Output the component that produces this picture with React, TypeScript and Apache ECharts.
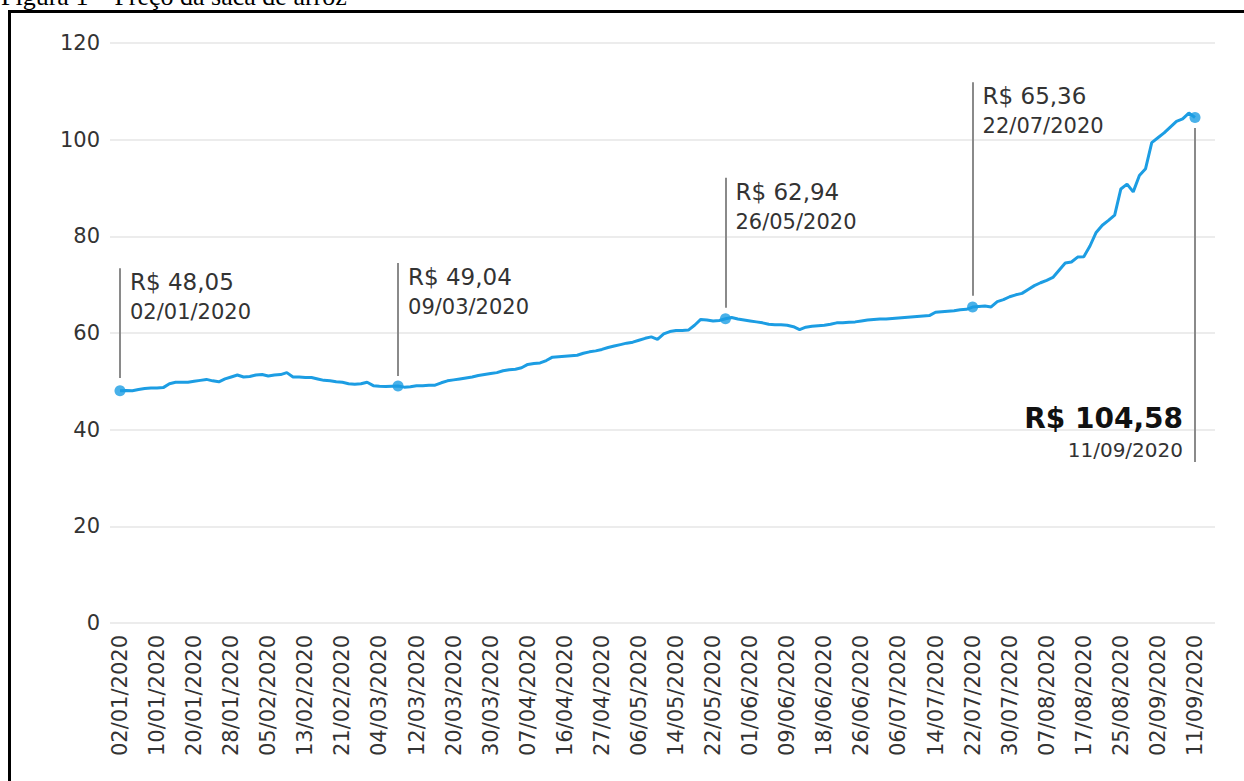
import React, { useEffect, useRef } from "react";
import * as echarts from "echarts";

// ---- data ----
const startDate = "2020-01-02";
const endDate = "2020-09-11";
const holidays = ["24/02/2020", "25/02/2020", "10/04/2020", "21/04/2020", "01/05/2020", "11/06/2020", "07/09/2020"];

const prices = [
  48.05, 48.1, 48.05, 48.3, 48.5, 48.6, 48.6, 48.7, 49.5, 49.8,
  49.8, 49.8, 50.0, 50.2, 50.4, 50.1, 49.9, 50.5, 50.9, 51.3,
  50.9, 51.0, 51.3, 51.4, 51.1, 51.3, 51.4, 51.8, 50.9, 50.9,
  50.8, 50.8, 50.5, 50.2, 50.1, 49.9, 49.8, 49.5, 49.4, 49.5,
  49.8, 49.1, 49.0, 48.95, 49.0, 49.04, 48.8, 48.9, 49.1, 49.1,
  49.2, 49.2, 49.7, 50.1, 50.3, 50.5, 50.7, 50.9, 51.2, 51.4,
  51.6, 51.8, 52.2, 52.4, 52.5, 52.8, 53.5, 53.7, 53.8, 54.3,
  55.0, 55.1, 55.2, 55.3, 55.4, 55.8, 56.1, 56.3, 56.6, 57.0,
  57.3, 57.6, 57.9, 58.1, 58.5, 58.9, 59.2, 58.7, 59.8, 60.3,
  60.5, 60.5, 60.6, 61.6, 62.8, 62.7, 62.5, 62.6, 62.94, 63.2,
  62.9, 62.7, 62.5, 62.3, 62.1, 61.8, 61.7, 61.7, 61.6, 61.3,
  60.7, 61.2, 61.4, 61.5, 61.6, 61.8, 62.1, 62.1, 62.2, 62.3,
  62.5, 62.7, 62.8, 62.9, 62.9, 63.0, 63.1, 63.2, 63.3, 63.4,
  63.5, 63.6, 64.3, 64.4, 64.5, 64.6, 64.8, 64.9, 65.36, 65.5,
  65.6, 65.4, 66.5, 66.9, 67.5, 67.9, 68.2, 69.0, 69.8, 70.4,
  70.9, 71.5, 73.0, 74.5, 74.7, 75.7, 75.8, 78.0, 80.8, 82.3,
  83.3, 84.4, 89.8, 90.8, 89.2, 92.6, 94.0, 99.4, 100.4, 101.4,
  102.6, 103.8, 104.3, 105.5, 104.58,
];

const highlightDates = ["02/01/2020", "09/03/2020", "26/05/2020", "22/07/2020", "11/09/2020"];
const highlightLabels = ["R$ 48,05", "R$ 49,04", "R$ 62,94", "R$ 65,36", "R$ 104,58"];
const highlightValues = [48.05, 49.04, 62.94, 65.36, 104.58];
// leader line extent (value units) for each highlight: [from, to]
const leaderLines = [
  [50.7, 73.4],
  [51.1, 74.5],
  [65.2, 92.1],
  [67.7, 111.9],
  [102.4, 33.3],
];

const yTicks = [0, 20, 40, 60, 80, 100, 120];
const title = "Figura 1 – Preço da saca de arroz";

function pad(n: number) {
  return n < 10 ? "0" + n : "" + n;
}
function buildTradingDays(): string[] {
  const out: string[] = [];
  const d = new Date(startDate + "T00:00:00Z");
  const end = new Date(endDate + "T00:00:00Z");
  while (d.getTime() <= end.getTime()) {
    const dow = d.getUTCDay();
    const s = pad(d.getUTCDate()) + "/" + pad(d.getUTCMonth() + 1) + "/" + d.getUTCFullYear();
    if (dow !== 0 && dow !== 6 && holidays.indexOf(s) < 0) out.push(s);
    d.setUTCDate(d.getUTCDate() + 1);
  }
  return out;
}
const tradingDays = buildTradingDays();

const BLUE = "#1c9de3";
const TEXT = "#333333";
const FONT = "DejaVu Sans";

export default function App() {
  const ref = useRef<HTMLDivElement>(null);
  useEffect(() => {
    if (!ref.current) return;
    const chart = echarts.init(ref.current, undefined, { renderer: "svg" });
    const idx = highlightDates.map((d) => tradingDays.indexOf(d));

    const markPointData: any[] = [];
    idx.forEach((i, k) => {
      const last = k === highlightDates.length - 1;
      const top = leaderLines[k][1];
      if (!last) {
        markPointData.push({
          coord: [i, top],
          symbolSize: 0,
          label: {
            show: true,
            position: [10, 14],
            align: "left",
            verticalAlign: "middle",
            formatter: highlightLabels[k],
            fontSize: 23,
            fontFamily: FONT,
            color: TEXT,
          },
        });
        markPointData.push({
          coord: [i, top],
          symbolSize: 0,
          label: {
            show: true,
            position: [10, 44],
            align: "left",
            verticalAlign: "middle",
            formatter: highlightDates[k],
            fontSize: 21,
            fontFamily: FONT,
            color: TEXT,
          },
        });
      } else {
        markPointData.push({
          coord: [i, top],
          symbolSize: 0,
          label: {
            show: true,
            position: [-12, -44],
            align: "right",
            verticalAlign: "middle",
            formatter: highlightLabels[k],
            fontSize: 28,
            fontWeight: "bold",
            fontFamily: FONT,
            color: "#111",
          },
        });
        markPointData.push({
          coord: [i, top],
          symbolSize: 0,
          label: {
            show: true,
            position: [-12, -12],
            align: "right",
            verticalAlign: "middle",
            formatter: highlightDates[k],
            fontSize: 20,
            fontFamily: FONT,
            color: TEXT,
          },
        });
      }
    });

    chart.setOption({
      animation: false,
      backgroundColor: "#ffffff",
      grid: [
        { left: 110, right: 29, top: 43, bottom: 158 },
        { left: 120, right: 49, top: 43, bottom: 158 },
      ],
      xAxis: [
        { gridIndex: 0, type: "value", show: false, min: 0, max: 1 },
        {
          gridIndex: 1,
          type: "category",
          data: tradingDays,
          boundaryGap: false,
          axisLine: { show: false },
          axisTick: { show: false },
          axisLabel: {
            interval: 5,
            rotate: 90,
            fontSize: 21,
            fontFamily: FONT,
            color: TEXT,
            margin: 12,
          },
        },
      ],
      yAxis: [
        {
          gridIndex: 0,
          type: "value",
          min: yTicks[0],
          max: yTicks[yTicks.length - 1],
          interval: 20,
          axisLine: { show: false },
          axisTick: { show: false },
          axisLabel: { fontSize: 21, fontFamily: FONT, color: TEXT, margin: 10 },
          splitLine: { lineStyle: { color: "#e6e6e6", width: 1.5 } },
        },
        {
          gridIndex: 1,
          type: "value",
          min: yTicks[0],
          max: yTicks[yTicks.length - 1],
          show: false,
          splitLine: { show: false },
        },
      ],
      series: [
        {
          type: "line",
          xAxisIndex: 1,
          yAxisIndex: 1,
          data: prices,
          showSymbol: false,
          symbol: "none",
          lineStyle: { color: BLUE, width: 3 },
          itemStyle: { color: BLUE },
          markLine: {
            silent: true,
            symbol: "none",
            label: { show: false },
            lineStyle: { color: "#8a8a8a", width: 2, type: "solid" },
            data: idx.map((i, k) => [
              { coord: [i, leaderLines[k][0]] },
              { coord: [i, leaderLines[k][1]] },
            ]),
          },
          markPoint: {
            silent: true,
            symbol: "circle",
            data: markPointData,
          },
          z: 3,
        },
        {
          type: "scatter",
          xAxisIndex: 1,
          yAxisIndex: 1,
          data: idx.map((i, k) => [i, highlightValues[k]]),
          symbol: "circle",
          symbolSize: 11,
          itemStyle: { color: BLUE },
          z: 4,
        },
      ],
      graphic: [
        {
          type: "rect",
          shape: { x: 9.5, y: 11.5, width: 1400, height: 1000 },
          style: { fill: "none", stroke: "#000", lineWidth: 3 },
          silent: true,
        },
        {
          type: "text",
          x: 1,
          y: 9,
          style: {
            text: title,
            fontSize: 26,
            fontFamily: "Liberation Serif",
            fill: "#000",
            verticalAlign: "bottom",
          },
          silent: true,
        },
      ],
    });
    return () => chart.dispose();
  }, []);
  return (
    <div
      ref={ref}
      style={{ position: "absolute", left: 0, top: 0, width: 1244, height: 781, background: "#fff" }}
    />
  );
}
